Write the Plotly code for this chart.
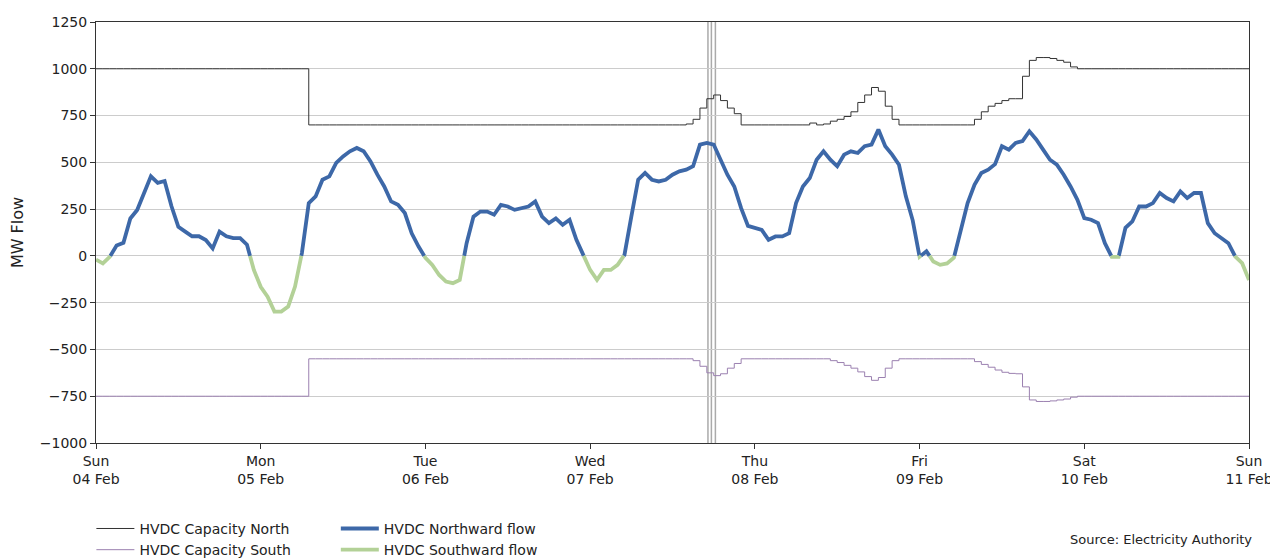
import pandas as pd
import plotly.graph_objects as go

# Hourly readings from Sun 04 Feb 2024 00:00 to Sun 11 Feb 2024 00:00
start = "2024-02-04 00:00"

flow_mw = [
    -20, -40, -5, 55, 70, 200, 245, 335, 425, 390, 400, 265, 155, 130, 105, 105, 85, 40, 130, 105, 95, 95, 60, -75,
    -165, -218, -298, -298, -271, -164, 15, 282, 318, 407, 425, 497, 532, 559, 577, 559, 505, 434, 371, 291, 273, 229, 121, 50,
    -10, -48, -102, -137, -146, -128, 68, 210, 237, 237, 220, 273, 264, 246, 255, 264, 291, 210, 175, 200, 166, 193, 86, 5,
    -75, -128, -75, -75, -48, 5, 210, 407, 443, 407, 398, 407, 434, 452, 461, 479, 595, 604, 595, 514, 434, 371, 255, 160,
    148, 139, 86, 104, 104, 121, 282, 371, 416, 514, 559, 514, 479, 541, 559, 550, 586, 595, 675, 586, 541, 487, 318, 190,
    -5, 25, -30, -48, -40, -10, 139, 282, 380, 443, 461, 490, 586, 568, 604, 613, 666, 622, 568, 514, 488, 434, 371, 300,
    202, 193, 175, 68, -5, -5, 150, 184, 264, 264, 282, 336, 309, 291, 345, 309, 336, 336, 175, 121, 95, 68, -4, -39,
    -129,
]

cap_north = (
    [1000] * 31
    + [700] * 55
    + [705, 730, 790, 840, 860, 830, 790, 760]
    + [700] * 10
    + [710, 700, 705, 720, 730, 745, 770, 820, 860, 900, 880, 800, 730]
    + [700] * 11
    + [730, 770, 800, 815, 830, 840, 840, 960, 1045, 1060, 1060, 1055, 1045, 1035, 1010]
    + [1000] * 26
)

cap_south = (
    [-750] * 31
    + [-550] * 56
    + [-560, -590, -625, -640, -630, -600, -575]
    + [-550] * 13
    + [-560, -570, -585, -600, -620, -645, -665, -650, -600, -560]
    + [-550] * 11
    + [-565, -580, -595, -610, -622, -628, -630, -700, -770, -778, -778, -775, -770, -765, -755]
    + [-750] * 26
)

marker_times = ["2024-02-07 17:10", "2024-02-07 17:40", "2024-02-07 18:15"]

day_ticks = pd.date_range("2024-02-04", "2024-02-11", freq="D")
day_labels = [d.strftime("%a") + "<br>" + d.strftime("%d %b") for d in day_ticks]

times = pd.date_range(start, periods=len(flow_mw), freq="h")

# split the flow into northward (>=0) and southward (<0) pieces, joined at zero
nx, ny, sx, sy = [], [], [], []
for i, (t, v) in enumerate(zip(times, flow_mw)):
    if i > 0:
        p = flow_mw[i - 1]
        if (p >= 0) != (v >= 0):
            tc = times[i - 1] + (t - times[i - 1]) * (p / (p - v))
            nx.append(tc); ny.append(0); sx.append(tc); sy.append(0)
            if v >= 0:
                sx.append(None); sy.append(None)
            else:
                nx.append(None); ny.append(None)
    if v >= 0:
        nx.append(t); ny.append(v)
    else:
        sx.append(t); sy.append(v)

FONT = "DejaVu Sans"
fig = go.Figure()

fig.add_trace(go.Scatter(x=times, y=cap_north, mode="lines", name="HVDC Capacity North",
                         line=dict(color="#333333", width=1, shape="hv"), legend="legend"))
fig.add_trace(go.Scatter(x=times, y=cap_south, mode="lines", name="HVDC Capacity South",
                         line=dict(color="#9b80b0", width=1, shape="hv"), legend="legend"))
fig.add_trace(go.Scatter(x=nx, y=ny, mode="lines", name="HVDC Northward flow",
                         line=dict(color="#3d68a8", width=3.8), legend="legend2"))
fig.add_trace(go.Scatter(x=sx, y=sy, mode="lines", name="HVDC Southward flow",
                         line=dict(color="#b3d197", width=3.8), legend="legend2"))

for t in marker_times:
    fig.add_vline(x=t, line=dict(color="#aaaaaa", width=1.5), layer="below")

axis_common = dict(showline=True, linecolor="#333333", linewidth=1, mirror=True,
                   ticks="outside", ticklen=5, tickcolor="#333333", automargin=False,
                   tickfont=dict(family=FONT, size=14, color="#222222"), zeroline=False)

fig.update_xaxes(type="date", range=[day_ticks[0], day_ticks[-1]], tickvals=day_ticks, ticktext=day_labels,
                 showgrid=False, **axis_common)
fig.update_yaxes(range=[-1000, 1250], dtick=250, tick0=0, showgrid=True, gridcolor="#cccccc", gridwidth=1,
                 title=dict(text="MW Flow", font=dict(family=FONT, size=16, color="#222222"), standoff=12),
                 **axis_common)

legend_common = dict(orientation="v", font=dict(family=FONT, size=14, color="#222222"),
                     bgcolor="rgba(0,0,0,0)", yanchor="top", xanchor="left", tracegroupgap=0,
                     itemwidth=38)
fig.update_layout(
    width=1270, height=552,
    margin=dict(l=88, r=29, t=14, b=117, autoexpand=False),
    plot_bgcolor="white", paper_bgcolor="white",
    font=dict(family=FONT),
    legend=dict(x=-0.004, y=-0.166, **legend_common),
    legend2=dict(x=0.208, y=-0.166, **legend_common),
    annotations=[dict(text="Source: Electricity Authority", xref="paper", yref="paper",
                      x=1.0045, y=-0.230, xanchor="right", yanchor="middle", showarrow=False,
                      font=dict(family=FONT, size=13, color="#222222"))],
)

fig.write_html("out.html")
